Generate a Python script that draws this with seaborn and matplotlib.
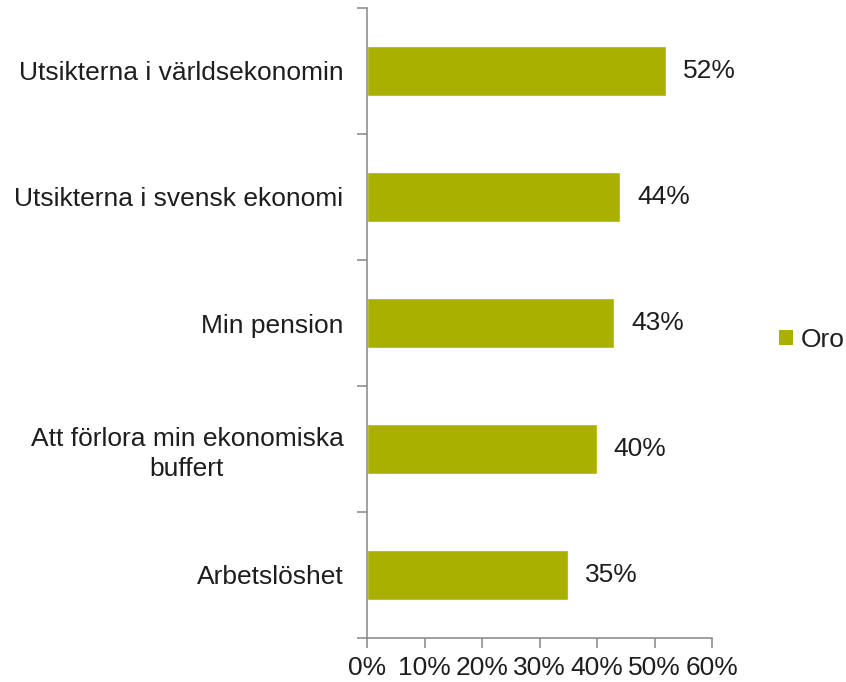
import matplotlib
matplotlib.use("Agg")
import matplotlib.pyplot as plt
import seaborn as sns
import pandas as pd
from matplotlib.ticker import FuncFormatter, MultipleLocator
from matplotlib.patches import Patch

categories = ["Utsikterna i världsekonomin", "Utsikterna i svensk ekonomi", "Min pension",
              "Att förlora min ekonomiska\nbuffert", "Arbetslöshet"]
values = [52, 44, 43, 40, 35]
series_name = "Oro"
xticks = [0, 10, 20, 30, 40, 50, 60]

BAR = "#A9B000"
TXT = "#1E1E1E"
SPINE = "#868686"
FS = 19

sns.set_theme(style="white")
plt.rcParams["font.family"] = ["Liberation Sans", "DejaVu Sans"]

df = pd.DataFrame({"cat": categories, "val": values, "serie": series_name})

fig = plt.figure(figsize=(8.46, 6.82), dpi=100)
ax = fig.add_axes([367/846, 1-638/682, (712.3-367)/846, (638-8)/682])

sns.barplot(data=df, y="cat", x="val", hue="serie", palette=[BAR], orient="h",
            width=0.4, ax=ax, legend=False, saturation=1)

ax.set_xlim(0, 60)
ax.set_ylim(4.5, -0.5)
ax.set_xticks(xticks)
ax.xaxis.set_major_formatter(FuncFormatter(lambda v, p: f"{int(v)}%"))
ax.set_xlabel("")
ax.set_ylabel("")

# y ticks at category boundaries, labels at centers
ax.set_yticks([i for i in range(len(categories))])
ax.set_yticklabels(categories, multialignment="center", linespacing=1.3)
ax.yaxis.set_minor_locator(MultipleLocator(1, offset=0.5))
ax.tick_params(axis="y", which="major", length=0, pad=17, labelsize=FS, labelcolor=TXT)
ax.tick_params(axis="y", which="minor", length=7, width=1.1, color=SPINE, direction="out", left=True)
ax.tick_params(axis="x", which="major", length=7, width=1.1, color=SPINE, direction="out",
               bottom=True, pad=6, labelsize=FS, labelcolor=TXT)

for s in ["top", "right"]:
    ax.spines[s].set_visible(False)
for s in ["left", "bottom"]:
    ax.spines[s].set_color(SPINE)
    ax.spines[s].set_linewidth(1.1)

for c in ax.containers:
    ax.bar_label(c, labels=[f"{v}%" for v in values], padding=12, fontsize=FS, color=TXT)

handle = Patch(facecolor=BAR, edgecolor="none", label=series_name)
fig.legend(handles=[handle], loc="center left", bbox_to_anchor=(779/846, 1-340/682),
           frameon=False, fontsize=FS, handlelength=0.53, handleheight=0.53,
           handletextpad=0.28, borderpad=0, borderaxespad=0, labelcolor=TXT)

fig.savefig("out.png", dpi=100)
